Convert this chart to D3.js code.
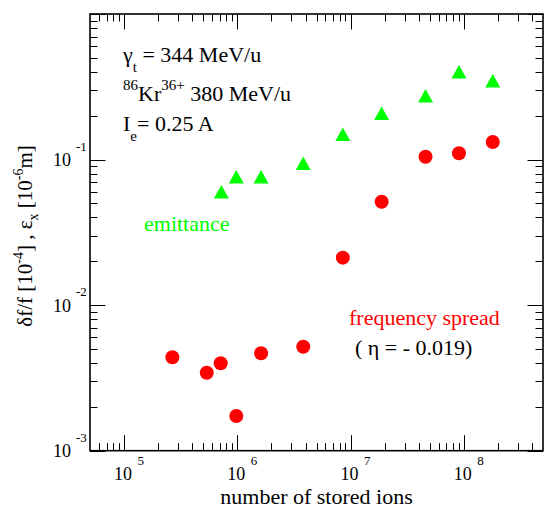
<!DOCTYPE html>
<html>
<head>
<meta charset="utf-8">
<script src="https://cdn.jsdelivr.net/npm/d3@7"></script>
<style>
  html, body { margin: 0; padding: 0; background: #fff; }
  svg { display: block; }
</style>
</head>
<body>
<svg id="chart" width="544" height="508"></svg>
<script>
// Number of stored ions for the frequency-spread measurements
const ionsFreq = [2.67e5, 5.37e5, 7.13e5, 9.79e5, 1.62e6, 3.82e6, 8.54e6, 1.88e7, 4.59e7, 9.06e7, 1.80e8];
// Relative frequency spread δf/f [10^-4]
const freqSpread = [4.38e-3, 3.43e-3, 3.99e-3, 1.73e-3, 4.67e-3, 5.18e-3, 2.12e-2, 5.13e-2, 0.1046, 0.1104, 0.132];
// Number of stored ions for the emittance measurements
const ionsEmit = [7.23e5, 9.79e5, 1.62e6, 3.82e6, 8.54e6, 1.88e7, 4.59e7, 9.06e7, 1.80e8];
// Horizontal emittance ε_x [10^-6 m]
const emittance = [0.0601, 0.0762, 0.0762, 0.0943, 0.1491, 0.2078, 0.2747, 0.4015, 0.3481];
// Axis ranges and labelled decades
const xDomain = [5e4, 5e8];
const yDomain = [1e-3, 1];
const xTickExp = [5, 6, 7, 8];
const yTickExp = [-3, -2, -1];

const FONT = "'Liberation Serif', 'Times New Roman', Times, 'Nimbus Roman', 'DejaVu Serif', serif";
const svg = d3.select("#chart").attr("font-family", FONT).style("white-space", "pre");
const L = 90, R = 543, T = 14, B = 450.7;

const x = d3.scaleLog().domain(xDomain).range([L, R]);
const y = d3.scaleLog().domain(yDomain).range([B, T]);

const RED = "#ff0000", GREEN = "#00ff00";

// Tick values: majors at decades, minors at 2..9 × decade
function logTicks(domain) {
  const lo = Math.floor(Math.log10(domain[0])), hi = Math.ceil(Math.log10(domain[1]));
  const major = [], minor = [];
  for (let e = lo; e <= hi; e++) {
    const base = Math.pow(10, e);
    if (base >= domain[0] * 0.999 && base <= domain[1] * 1.001) major.push(base);
    for (let m = 2; m <= 9; m++) {
      const v = m * base;
      if (v > domain[0] * 1.001 && v < domain[1] * 0.999) minor.push(v);
    }
  }
  return { major, minor };
}
const xt = logTicks(xDomain), yt = logTicks(yDomain);

const ticks = svg.append("g").attr("stroke", "#000").attr("stroke-width", 1);
const MAJ = 15.5, MIN = 7.5;
// bottom & top
xt.major.concat(xt.minor).forEach(v => {
  const len = xt.major.includes(v) ? MAJ : MIN;
  const px = Math.round(x(v)) + 0.5;
  ticks.append("line").attr("x1", px).attr("x2", px).attr("y1", B).attr("y2", B - len);
  ticks.append("line").attr("x1", px).attr("x2", px).attr("y1", T).attr("y2", T + len);
});
// left & right
yt.major.concat(yt.minor).forEach(v => {
  const len = yt.major.includes(v) ? MAJ : MIN;
  const py = Math.round(y(v)) + 0.5;
  ticks.append("line").attr("x1", L).attr("x2", L + len).attr("y1", py).attr("y2", py);
  ticks.append("line").attr("x1", R).attr("x2", R - len).attr("y1", py).attr("y2", py);
});

// Frame
svg.append("rect").attr("x", L).attr("y", T).attr("width", R - L).attr("height", B - T)
  .attr("fill", "none").attr("stroke", "#000").attr("stroke-width", 1.6);

// X tick labels: 10^n
const xl = svg.append("g").attr("fill", "#000");
xTickExp.forEach(e => {
  const px = x(Math.pow(10, e));
  xl.append("text").attr("x", px - 1).attr("y", 479.5).attr("text-anchor", "middle")
    .attr("font-size", 18).text("10");
  xl.append("text").attr("x", px + 13.5).attr("y", 464.5).attr("font-size", 13).text(String(e));
});
// Y tick labels: 10^n
yTickExp.forEach(e => {
  const py = y(Math.pow(10, e));
  xl.append("text").attr("x", 71).attr("y", py + 6.5).attr("text-anchor", "end")
    .attr("font-size", 18).text("10");
  xl.append("text").attr("x", 76).attr("y", py - 9).attr("font-size", 13).text(String(e));
});

// Axis titles
svg.append("text").attr("x", (L + R) / 2).attr("y", 503.5).attr("text-anchor", "middle")
  .attr("font-size", 22).text("number of stored ions");

const yTitle = svg.append("text").attr("transform", "translate(32,236) rotate(-90)")
  .attr("text-anchor", "middle").attr("font-size", 21);
yTitle.append("tspan").text("δf/f  [10");
yTitle.append("tspan").attr("dy", -9).attr("font-size", 14).text("-4");
yTitle.append("tspan").attr("dy", 9).text("] ,  ε");
yTitle.append("tspan").attr("dy", 6).attr("font-size", 14).text("x");
yTitle.append("tspan").attr("dy", -6).text(" [10");
yTitle.append("tspan").attr("dy", -9).attr("font-size", 14).text("-6");
yTitle.append("tspan").attr("dy", 9).text("m]");

// Emittance: filled triangles
function trianglePath(w, h) {
  const p = d3.path();
  p.moveTo(0, -h / 2); p.lineTo(w / 2, h / 2); p.lineTo(-w / 2, h / 2); p.closePath();
  return p.toString();
}
const tri = trianglePath(15, 13.5);
svg.append("g").selectAll("path").data(ionsEmit.map((n, i) => [n, emittance[i]]))
  .join("path").attr("d", tri)
  .attr("transform", d => `translate(${x(d[0])},${y(d[1])})`)
  .attr("fill", GREEN);

// Frequency spread: filled circles
svg.append("g").selectAll("circle").data(ionsFreq.map((n, i) => [n, freqSpread[i]]))
  .join("circle").attr("cx", d => x(d[0])).attr("cy", d => y(d[1])).attr("r", 7)
  .attr("fill", RED);

// Annotation block
const ann = svg.append("g").attr("font-size", 22).attr("fill", "#000");
const a1 = ann.append("text").attr("x", 123).attr("y", 62);
a1.append("tspan").text("γ");
a1.append("tspan").attr("dy", 10).attr("font-size", 15).text("t");
a1.append("tspan").attr("dy", -10).text(" = 344 MeV/u");
const a2 = ann.append("text").attr("x", 123).attr("y", 101);
a2.append("tspan").attr("dy", -11).attr("font-size", 15).text("86");
a2.append("tspan").attr("dy", 11).text("Kr");
a2.append("tspan").attr("dy", -11).attr("font-size", 15).text("36+");
a2.append("tspan").attr("dy", 11).text(" 380 MeV/u");
const a3 = ann.append("text").attr("x", 123).attr("y", 131);
a3.append("tspan").text("I");
a3.append("tspan").attr("dy", 10).attr("font-size", 15).text("e");
a3.append("tspan").attr("dy", -10).text("= 0.25 A");

// Series labels
svg.append("text").attr("x", 144).attr("y", 231).attr("font-size", 22).attr("fill", GREEN)
  .text("emittance");
svg.append("text").attr("x", 349).attr("y", 325).attr("font-size", 22).attr("fill", RED)
  .text("frequency spread");
svg.append("text").attr("x", 355).attr("y", 355).attr("font-size", 22).attr("fill", "#000")
  .text("( η = - 0.019)");
</script>
</body>
</html>
